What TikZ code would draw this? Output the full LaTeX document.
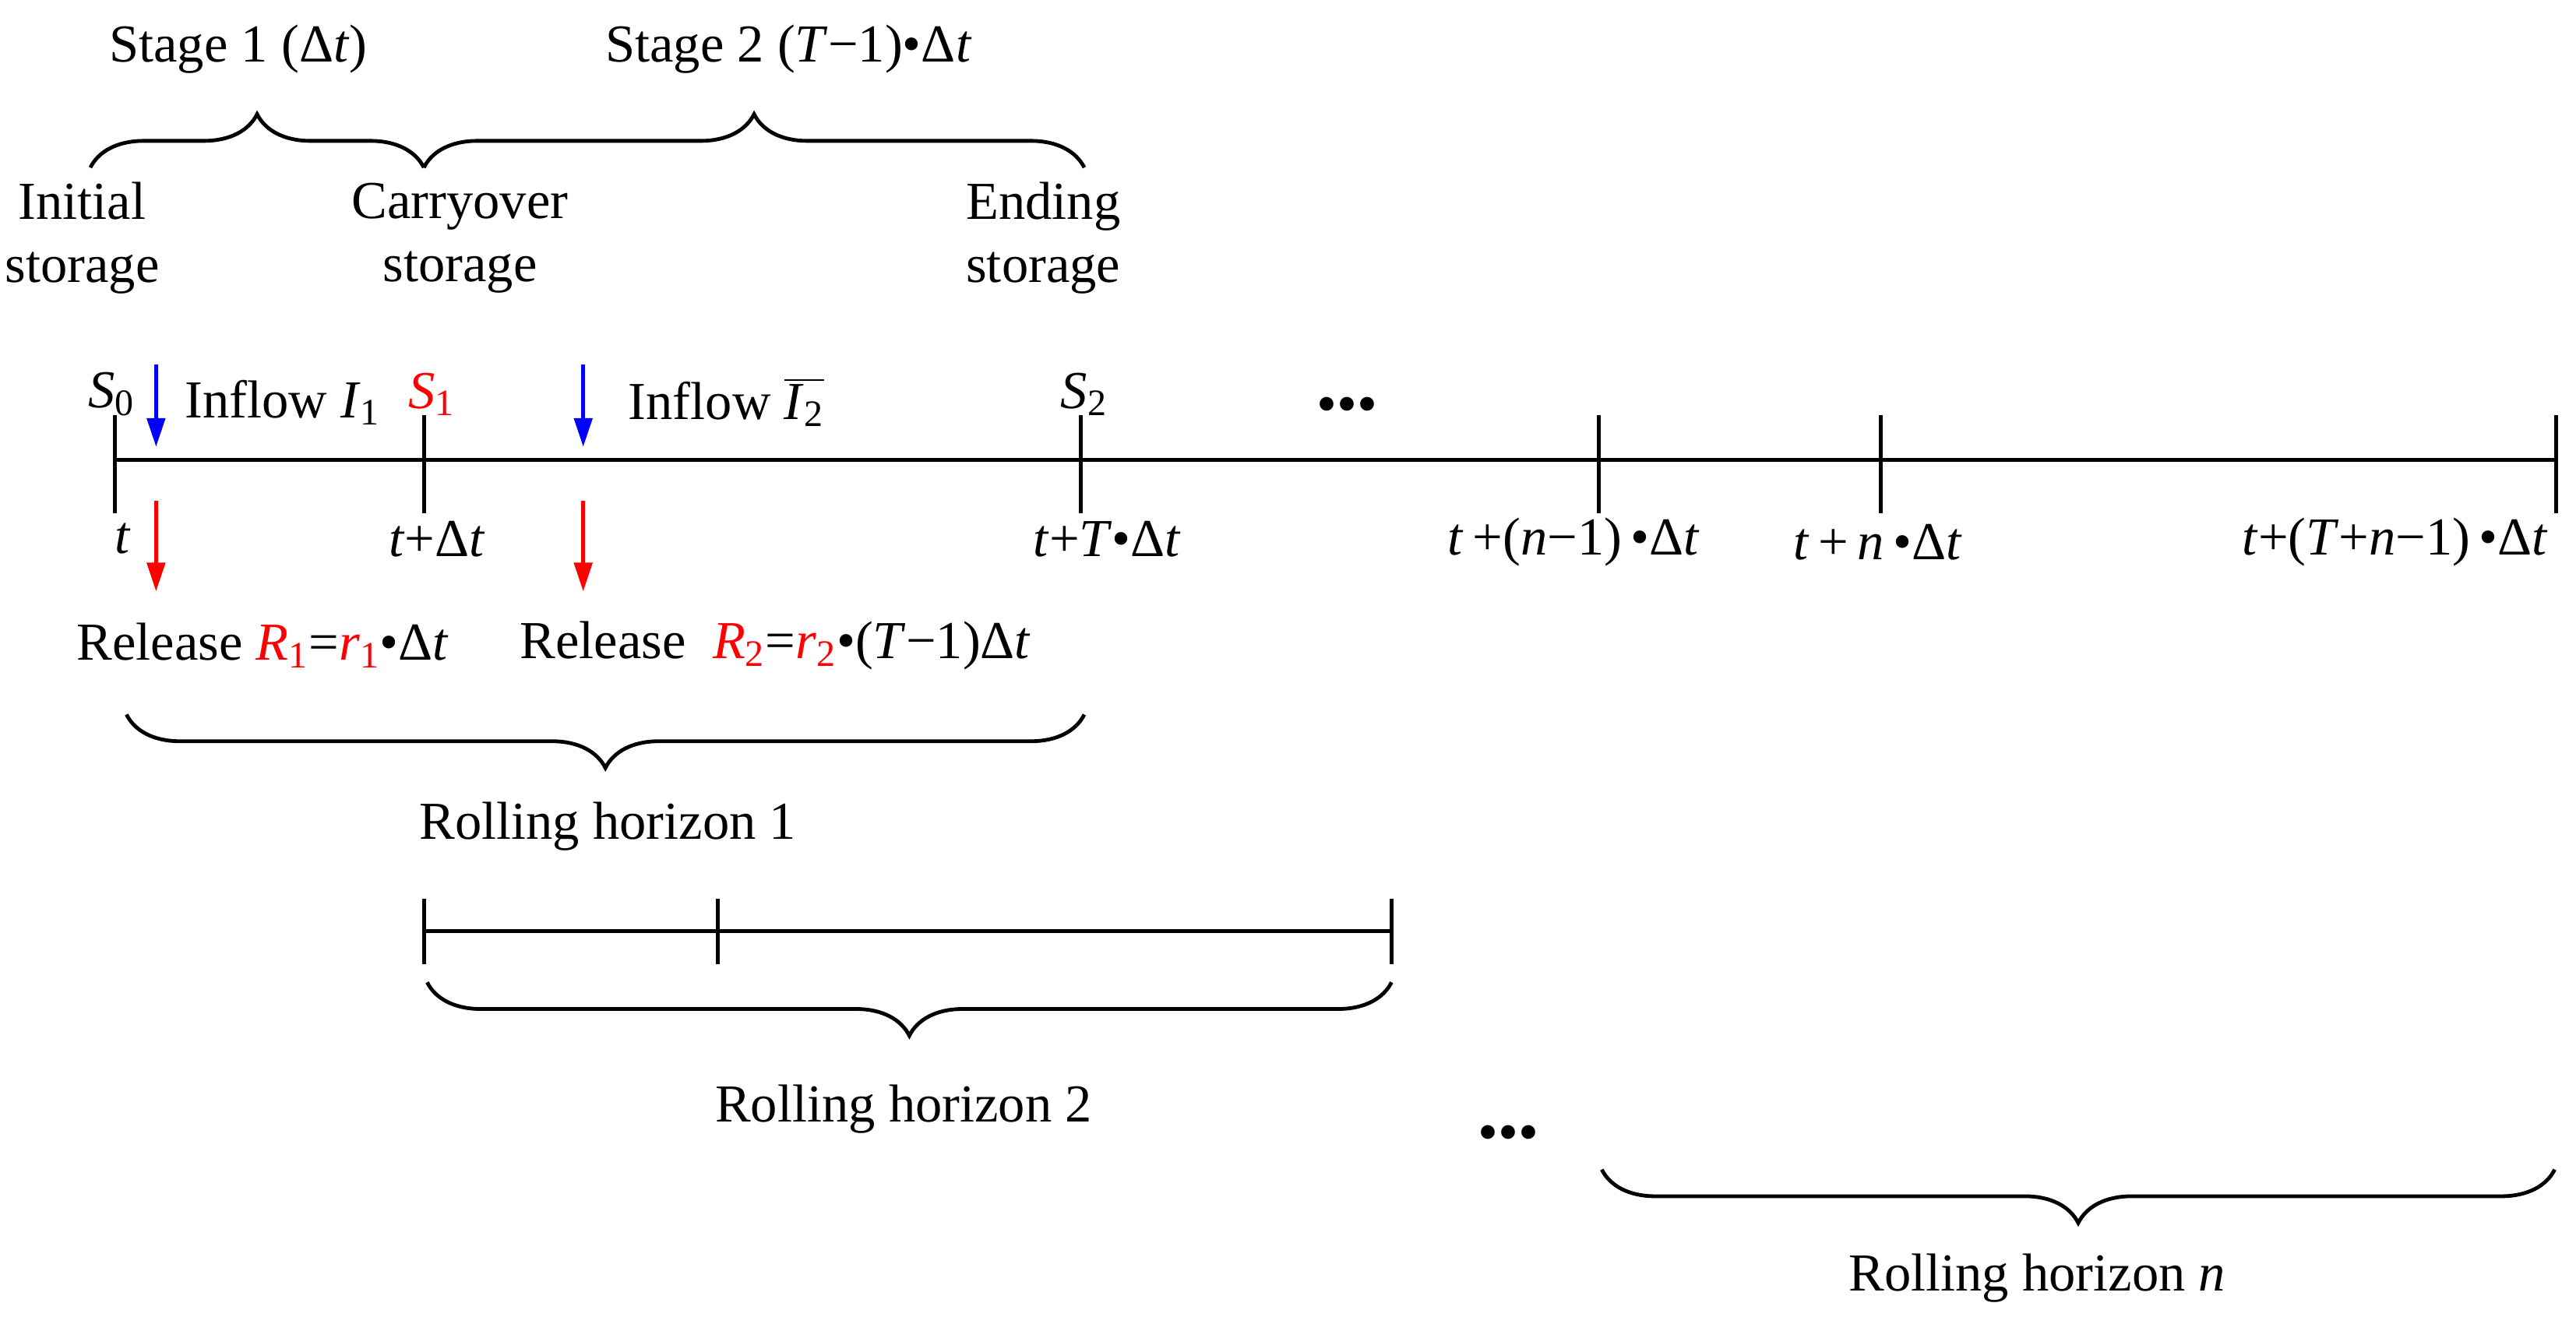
\documentclass[tikz,border=0pt]{standalone}
\usepackage{fontspec}
\setmainfont{Liberation Serif}
\usetikzlibrary{decorations.pathreplacing,arrows.meta}
\newcommand{\vr}[2]{\textit{#1}\textsubscript{#2}}
\begin{document}
\begin{tikzpicture}[x=0.02cm,y=-0.02cm,thick,
  txt/.style={font=\fontsize{18.5}{22}\selectfont},
  brc/.style={decorate,decoration={brace,amplitude=0.65cm},line width=1.3pt},
  tick/.style={line width=1.3pt},
  arr/.style={-{Triangle[length=0.35cm,width=0.22cm]},line width=1.3pt},
  dts/.style={font=\fontsize{20}{22}\selectfont}]
	\useasboundingbox (0,0) rectangle (1568,806);
	% main time line
	\coordinate (a0) at (70,280);
	\coordinate (a1) at (258,280);
	\coordinate (a2) at (658,280);
	\coordinate (a3) at (973,280);
	\coordinate (a4) at (1145,280);
	\coordinate (a5) at (1556,280);
	\draw[tick] (a0) -- (a5);
	\foreach \p in {a0,a1,a2,a3,a4,a5}
		\draw[tick] ([yshift=-0.65cm]\p) -- ([yshift=0.55cm]\p);
	\node[txt] (s0) at (68,240) {\vr{S}{0}};
	\node[txt,red] (s1) at (263,240) {\vr{S}{1}};
	\node[txt] (s2) at (660,240) {\vr{S}{2}};
	\node[dts] (dots1) at (820,250) {•••};
	% inflows
	\coordinate (i1t) at (95,222); \coordinate (i1b) at (95,272);
	\coordinate (i2t) at (355,222); \coordinate (i2b) at (355,272);
	\draw[arr,blue] (i1t) -- (i1b);
	\draw[arr,blue] (i2t) -- (i2b);
	\node[txt,anchor=west] (in1) at (106,245) {Inflow \vr{I}{1}};
	\node[txt,anchor=west] (in2) at (376,245) {Inflow $\overline{\mbox{\vr{I}{2}}}$};
	% releases
	\coordinate (r1t) at (95,305); \coordinate (r1b) at (95,360);
	\coordinate (r2t) at (355,305); \coordinate (r2b) at (355,360);
	\draw[arr,red] (r1t) -- (r1b);
	\draw[arr,red] (r2t) -- (r2b);
	\node[txt] (rel1) at (160,393) {Release \textcolor{red}{\vr{R}{1}}=\textcolor{red}{\vr{r}{1}}•Δ\textit{t}};
	\node[txt] (rel2) at (472,393) {Release \ \textcolor{red}{\vr{R}{2}}=\textcolor{red}{\vr{r}{2}}•(\textit{T}−1)Δ\textit{t}};
	% time labels
	\node[txt] (t0) at (75,328) {\textit{t}};
	\node[txt] (t1) at (266,328) {\textit{t}+Δ\textit{t}};
	\node[txt] (t2) at (674,328) {\textit{t}+\textit{T}•Δ\textit{t}};
	\node[txt] (t3) at (958,330) {\textit{t}\,+(\textit{n}−1)\,•Δ\textit{t}};
	\node[txt] (t4) at (1143,330) {\textit{t}\,+\,\textit{n}\,•Δ\textit{t}};
	\node[txt] (t5) at (1458,330) {\textit{t}+(\textit{T}+\textit{n}−1)\,•Δ\textit{t}};
	% storages and stages
	\node[txt,align=center] (ini) at (50,145) {Initial\\storage};
	\node[txt,align=center] (car) at (280,145) {Carryover\\storage};
	\node[txt,align=center] (end) at (635,145) {Ending\\storage};
	\draw[brc] (55,102) -- (258,102);
	\draw[brc] (258,102) -- (660,102);
	\node[txt] (st1) at (145,30) {Stage 1 (Δ\textit{t})};
	\node[txt] (st2) at (480,30) {Stage 2 (\textit{T}−1)•Δ\textit{t}};
	% rolling horizons
	\draw[brc,decoration={mirror}] (77,435) -- (660,435);
	\node[txt] (rh1) at (370,503) {Rolling horizon 1};
	\coordinate (b0) at (258,567);
	\coordinate (b1) at (437,567);
	\coordinate (b2) at (847,567);
	\draw[tick] (b0) -- (b2);
	\foreach \p in {b0,b1,b2}
		\draw[tick] ([yshift=0.4cm]\p) -- ([yshift=-0.4cm]\p);
	\draw[brc,decoration={mirror}] (260,598) -- (847,598);
	\node[txt] (rh2) at (550,675) {Rolling horizon 2};
	\node[dts] (dots2) at (918,693) {•••};
	\draw[brc,decoration={mirror}] (975,712) -- (1555,712);
	\node[txt] (rhn) at (1240,778) {Rolling horizon \textit{n}};
\end{tikzpicture}
\end{document}
